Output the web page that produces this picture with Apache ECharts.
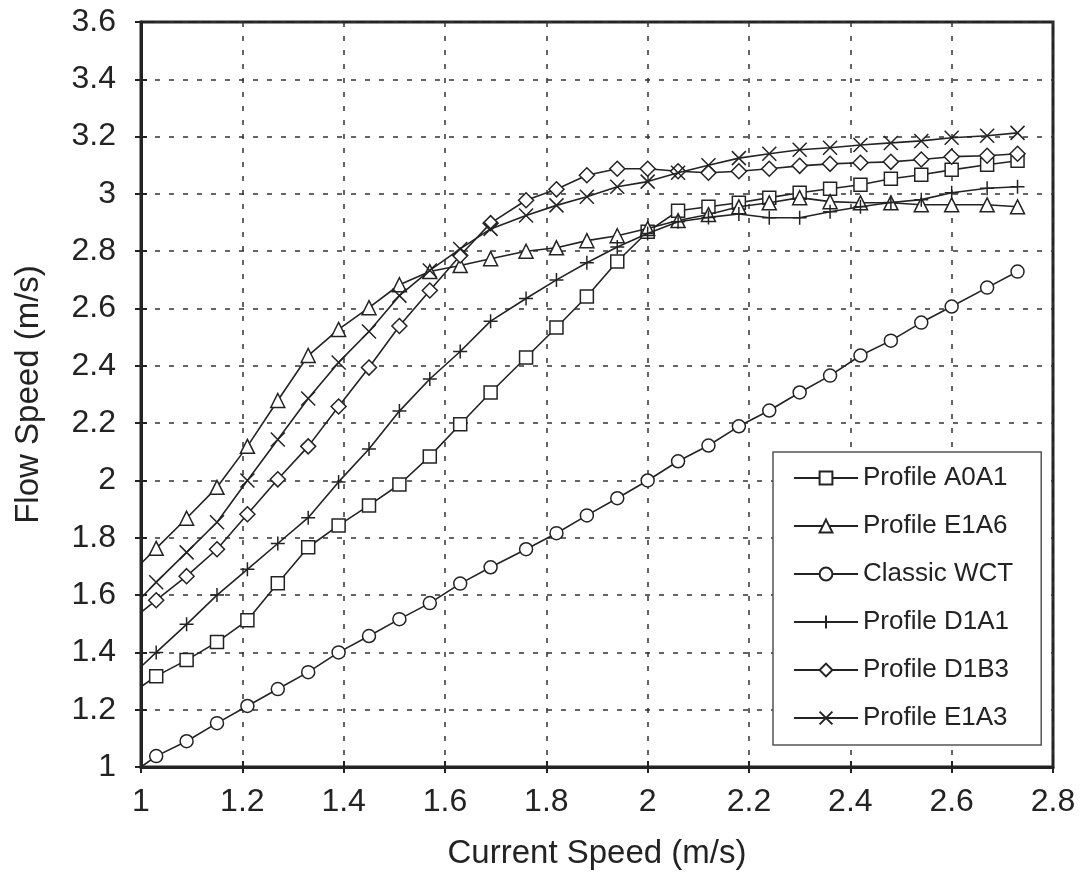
<!DOCTYPE html>
<html>
<head>
<meta charset="utf-8">
<script src="https://cdn.jsdelivr.net/npm/echarts@6/dist/echarts.min.js"></script>
<style>
html,body{margin:0;padding:0;background:#fff;}
#chart{width:1080px;height:875px;}
</style>
</head>
<body>
<div id="chart"></div>
<script>
// Current speed (m/s); first entry is where the lines start at the y axis (no marker)
const currentSpeed = [1.00, 1.03, 1.09, 1.15, 1.21, 1.27, 1.33, 1.39, 1.45, 1.51, 1.57, 1.63, 1.69, 1.76, 1.82, 1.88, 1.94, 2.00, 2.06, 2.12, 2.18, 2.24, 2.30, 2.36, 2.42, 2.48, 2.54, 2.60, 2.67, 2.73];

const profileA0A1 = [1.28, 1.317, 1.373, 1.436, 1.512, 1.641, 1.767, 1.843, 1.913, 1.986, 2.084, 2.196, 2.307, 2.429, 2.534, 2.642, 2.764, 2.868, 2.941, 2.955, 2.969, 2.987, 3.004, 3.018, 3.032, 3.053, 3.067, 3.084, 3.102, 3.116];
const profileE1A6 = [1.71, 1.763, 1.868, 1.976, 2.119, 2.279, 2.436, 2.527, 2.603, 2.683, 2.729, 2.75, 2.774, 2.80, 2.812, 2.837, 2.854, 2.879, 2.907, 2.928, 2.955, 2.969, 2.987, 2.973, 2.969, 2.969, 2.962, 2.962, 2.962, 2.955];
const classicWCT = [1.00, 1.038, 1.09, 1.153, 1.213, 1.272, 1.331, 1.40, 1.457, 1.516, 1.572, 1.64, 1.697, 1.76, 1.816, 1.878, 1.938, 2.0, 2.067, 2.122, 2.189, 2.244, 2.307, 2.366, 2.436, 2.488, 2.551, 2.607, 2.673, 2.729];
const profileD1A1 = [1.35, 1.40, 1.498, 1.60, 1.69, 1.78, 1.87, 1.995, 2.11, 2.242, 2.354, 2.45, 2.556, 2.635, 2.70, 2.76, 2.815, 2.862, 2.903, 2.918, 2.93, 2.917, 2.917, 2.938, 2.955, 2.97, 2.98, 3.004, 3.02, 3.025];
const profileD1B3 = [1.54, 1.582, 1.666, 1.76, 1.882, 2.004, 2.119, 2.258, 2.394, 2.539, 2.663, 2.785, 2.898, 2.978, 3.016, 3.065, 3.088, 3.088, 3.079, 3.074, 3.079, 3.088, 3.098, 3.105, 3.109, 3.112, 3.12, 3.13, 3.133, 3.14];
const profileE1A3 = [1.59, 1.645, 1.749, 1.854, 2.0, 2.143, 2.286, 2.412, 2.52, 2.645, 2.733, 2.808, 2.878, 2.925, 2.96, 2.99, 3.025, 3.043, 3.074, 3.10, 3.125, 3.14, 3.154, 3.161, 3.171, 3.178, 3.185, 3.196, 3.203, 3.213];

const seriesNames = ['Profile A0A1', 'Profile E1A6', 'Classic WCT', 'Profile D1A1', 'Profile D1B3', 'Profile E1A3'];
const xAxisTitle = 'Current Speed (m/s)';
const yAxisTitle = 'Flow Speed (m/s)';

const INK = '#232323';
const FONT = '"Liberation Sans", Arial, Helvetica, sans-serif';

function pts(vals) {
  return currentSpeed.map((x, i) => i === 0 ? { value: [x, vals[i]], symbol: 'none' } : [x, vals[i]]);
}

const markers = [
  { data: profileA0A1, symbol: 'rect', size: 13, hollow: true },
  { data: profileE1A6, symbol: 'triangle', size: 14, hollow: true },
  { data: classicWCT, symbol: 'circle', size: 13, hollow: true },
  { data: profileD1A1, symbol: 'path://M0,5L10,5M5,0L5,10', size: 14, hollow: false },
  { data: profileD1B3, symbol: 'diamond', size: 15, hollow: true },
  { data: profileE1A3, symbol: 'path://M0,0L10,10M10,0L0,10', size: 14, hollow: false }
];

const series = markers.map((m, i) => ({
  name: seriesNames[i],
  type: 'line',
  xAxisIndex: 0,
  yAxisIndex: 0,
  data: pts(m.data),
  symbol: m.symbol,
  symbolSize: m.size,
  showAllSymbol: true,
  lineStyle: { color: INK, width: 1.6 },
  itemStyle: { color: m.hollow ? '#ffffff' : INK, borderColor: INK, borderWidth: 1.5 },
  emphasis: { disabled: true },
  z: 3 + i
}));

const chart = echarts.init(document.getElementById('chart'), null, { renderer: 'canvas' });
chart.setOption({
  animation: false,
  backgroundColor: '#ffffff',
  grid: {
    left: 141, top: 22, width: 912, height: 747,
    show: true, borderColor: INK, borderWidth: 3, backgroundColor: 'transparent'
  },
  legend: {
    orient: 'vertical',
    left: 773, top: 452,
    backgroundColor: '#ffffff',
    borderColor: '#555555',
    borderWidth: 1.5,
    padding: [13, 28, 14, 20],
    itemWidth: 64,
    itemHeight: 16,
    itemGap: 22,
    textStyle: { fontFamily: FONT, fontSize: 26, color: INK, lineHeight: 26 },
    data: seriesNames
  },
  xAxis: [{
    type: 'value', position: 'bottom',
    min: 1, max: 2.8, interval: 0.2,
    name: xAxisTitle, nameLocation: 'middle', nameGap: 70,
    nameTextStyle: { fontFamily: FONT, fontSize: 33, color: INK },
    axisLine: { show: true, lineStyle: { color: INK, width: 3 } },
    axisTick: { show: true, inside: false, length: 6, lineStyle: { color: INK, width: 2 } },
    axisLabel: { fontFamily: FONT, fontSize: 32, color: INK, margin: 19 },
    splitLine: { show: true, lineStyle: { color: '#333333', width: 1.5, type: [5, 9] } }
  }, {
    type: 'value', position: 'bottom',
    min: 1, max: 2.8, interval: 0.2,
    axisLine: { show: false },
    axisTick: { show: true, inside: true, length: 6, lineStyle: { color: INK, width: 2 } },
    axisLabel: { show: false },
    splitLine: { show: false }
  }],
  yAxis: [{
    type: 'value', position: 'left',
    min: 1, max: 3.6, interval: 0.2,
    name: yAxisTitle, nameLocation: 'middle', nameGap: 96,
    nameTextStyle: { fontFamily: FONT, fontSize: 33, color: INK },
    axisLine: { show: true, lineStyle: { color: INK, width: 3 } },
    axisTick: { show: true, inside: false, length: 6, lineStyle: { color: INK, width: 2 } },
    axisLabel: { fontFamily: FONT, fontSize: 32, color: INK, margin: 25 },
    splitLine: { show: true, lineStyle: { color: '#333333', width: 1.5, type: [5, 9] } }
  }, {
    type: 'value', position: 'left',
    min: 1, max: 3.6, interval: 0.2,
    axisLine: { show: false },
    axisTick: { show: true, inside: true, length: 6, lineStyle: { color: INK, width: 2 } },
    axisLabel: { show: false },
    splitLine: { show: false }
  }],
  series: series
});
</script>
</body>
</html>
